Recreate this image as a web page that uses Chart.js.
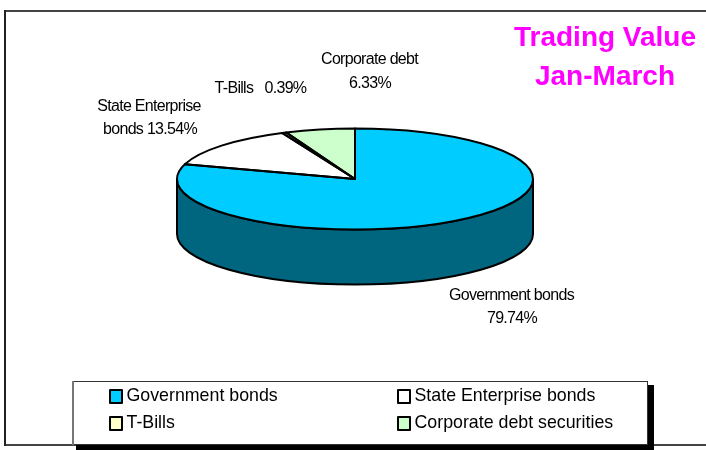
<!DOCTYPE html>
<html lang="en">
    <head>
        <meta charset="UTF-8">
        <title>Trading Value Jan-March</title>
        <script src="https://cdn.jsdelivr.net/npm/chart.js"></script>
        <style>
            html, body {
                margin: 0;
                background: #fff;
            }
            canvas {
                display: block;
            }
        </style>
    </head>
    <body>
        <canvas id="chart" width="706" height="450"></canvas>
        <script>
            const categories = ['Government bonds', 'State Enterprise bonds', 'T-Bills', 'Corporate debt securities'];
            const shares = [79.74, 13.54, 0.39, 6.33];
            const titleLines = ['Trading Value', 'Jan-March'];

            const sliceColors = ['#00ccff', '#ffffff', '#ffffcc', '#ccffcc'];
            const wallColors = ['#006680', '#808080', '#808066', '#668066'];

            // how flat the pie looks and how tall its side is
            const TILT = 50.5 / 178;
            const DEPTH = 55;
            const LABEL_FONT = '16px "Liberation Sans", Arial, sans-serif';

            function pct(i) {
                return shares[i].toFixed(2) + '%';
            }

            // wall of the cake, only the front half of the ellipse can be seen
            function drawWall(ctx, arcs) {
                arcs.forEach((arc, i) => {
                    const from = Math.max(arc.startAngle, 0);
                    const to = Math.min(arc.endAngle, Math.PI);
                    if (to <= from) return;
                    const rx = arc.outerRadius;
                    const ry = rx * TILT;
                    ctx.beginPath();
                    ctx.ellipse(arc.x, arc.y, rx, ry, 0, from, to);
                    ctx.ellipse(arc.x, arc.y + DEPTH, rx, ry, 0, to, from, true);
                    ctx.closePath();
                    ctx.fillStyle = wallColors[i];
                    ctx.fill();
                    ctx.lineWidth = 2;
                    ctx.strokeStyle = '#000';
                    ctx.stroke();
                });
            }

            // slice borders go on after the squash so the pen stays round
            function drawOutlines(ctx, arcs) {
                ctx.lineWidth = 2;
                ctx.strokeStyle = '#000';
                ctx.lineJoin = 'round';
                arcs.forEach(arc => {
                    const rx = arc.outerRadius;
                    ctx.beginPath();
                    ctx.moveTo(arc.x, arc.y);
                    ctx.ellipse(arc.x, arc.y, rx, rx * TILT, 0, arc.startAngle, arc.endAngle);
                    ctx.closePath();
                    ctx.stroke();
                });
            }

            function drawCallouts(ctx) {
                ctx.font = LABEL_FONT;
                ctx.fillStyle = '#000';
                ctx.textAlign = 'center';
                ctx.letterSpacing = '-0.7px';
                ctx.fillText('Corporate debt', 369.5, 64);
                ctx.fillText(pct(3), 370, 88);
                ctx.fillText('T-Bills   ' + pct(2), 260.5, 93);
                ctx.fillText('State Enterprise', 149, 111);
                ctx.fillText('bonds ' + pct(1), 150, 134);
                ctx.fillText('Government bonds', 511.5, 300);
                ctx.fillText(pct(0), 512, 323);
                ctx.letterSpacing = '0px';
            }

            function drawTitle(ctx) {
                ctx.font = 'bold 28px "Liberation Sans", Arial, sans-serif';
                ctx.fillStyle = '#ff00ff';
                ctx.textAlign = 'center';
                ctx.fillText(titleLines[0], 605, 46);
                ctx.fillText(titleLines[1], 605, 85);
            }

            function drawFrame(ctx) {
                ctx.fillStyle = '#444';
                ctx.fillRect(4, 10, 702, 2);
                ctx.fillRect(4, 444, 702, 2);
                ctx.fillStyle = '#222';
                ctx.fillRect(4, 10, 2, 436);
            }

            function drawLegend(ctx) {
                // drop shadow, then the box on top
                ctx.fillStyle = '#000';
                ctx.fillRect(76, 385, 578, 65);
                ctx.fillStyle = '#fff';
                ctx.fillRect(72, 381, 576, 64);
                ctx.fillStyle = '#333';
                ctx.fillRect(72, 381, 576, 1);
                ctx.fillRect(72, 444, 576, 1);
                ctx.fillRect(647, 381, 1, 64);
                ctx.fillStyle = '#777';
                ctx.fillRect(72, 381, 2, 64);

                const cols = [110, 398];
                const rows = [390, 417];
                ctx.font = '17.8px "Liberation Sans", Arial, sans-serif';
                ctx.textAlign = 'left';
                categories.forEach((name, i) => {
                    const x = cols[i % 2];
                    const y = rows[Math.floor(i / 2)];
                    ctx.fillStyle = sliceColors[i];
                    ctx.fillRect(x, y, 12, 13);
                    ctx.lineWidth = 2;
                    ctx.strokeStyle = '#000';
                    ctx.strokeRect(x, y, 12, 13);
                    ctx.fillStyle = '#000';
                    ctx.fillText(name, x + 16.5, y + 11);
                });
            }

            const cakePlugin = {
                id: 'cake',
                beforeDatasetsDraw(chart) {
                    const ctx = chart.ctx;
                    const arcs = chart.getDatasetMeta(0).data;
                    drawFrame(ctx);
                    drawWall(ctx, arcs);
                    // squash everything the library fills from here on
                    ctx.save();
                    ctx.translate(0, arcs[0].y);
                    ctx.scale(1, TILT);
                    ctx.translate(0, -arcs[0].y);
                },
                afterDatasetsDraw(chart) {
                    const ctx = chart.ctx;
                    ctx.restore();
                    drawOutlines(ctx, chart.getDatasetMeta(0).data);
                    drawCallouts(ctx);
                    drawTitle(ctx);
                    drawLegend(ctx);
                }
            };

            new Chart(document.getElementById('chart').getContext('2d'), {
                type: 'pie',
                data: {
                    labels: categories,
                    datasets: [{
                        data: shares,
                        backgroundColor: sliceColors,
                        borderWidth: 0
                    }]
                },
                options: {
                    responsive: false,
                    animation: false,
                    events: [],
                    layout: {
                        padding: { left: 177, right: 173, top: 1, bottom: 93 }
                    },
                    plugins: {
                        legend: { display: false },
                        title: { display: false },
                        tooltip: { enabled: false }
                    }
                },
                plugins: [cakePlugin]
            });
        </script>
    </body>
</html>
